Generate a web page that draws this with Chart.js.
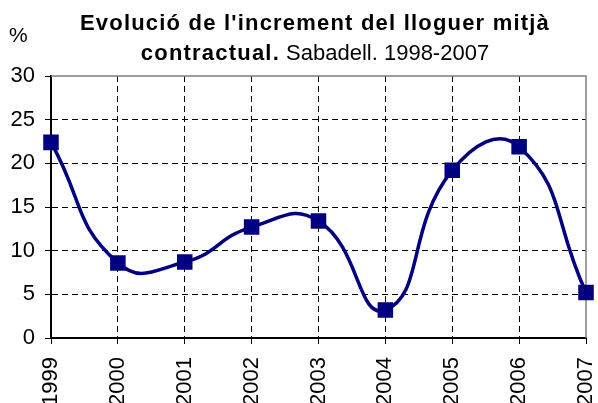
<!DOCTYPE html>
<html>
<head>
<meta charset="utf-8">
<script src="https://cdn.jsdelivr.net/npm/chart.js@4"></script>
<style>
    body { margin: 0; background: #fff; }
    #wrap { position: relative; width: 598px; height: 403px; overflow: hidden; }
    #title { position: absolute; left: 0; top: 8px; width: 630px; text-align: center;
             font-family: 'Liberation Sans', Arial, sans-serif; font-size: 22px; line-height: 30px; color: #000; }
    #title b { letter-spacing: 1.2px; }
    #unit { position: absolute; left: 9px; top: 24px; font-family: 'Liberation Sans', Arial, sans-serif;
            font-size: 21px; line-height: 22px; }
</style>
</head>
<body>
<div id="wrap">
    <canvas id="myLineChart" width="598" height="403"></canvas>
    <div id="title"><b>Evolució de l'increment del lloguer mitjà</b><br><b>contractual.</b> Sabadell. 1998-2007</div>
    <div id="unit">%</div>
</div>
<script>
const years = ['1999', '2000', '2001', '2002', '2003', '2004', '2005', '2006', '2007'];
const increment = [22.4, 8.6, 8.7, 12.7, 13.4, 3.2, 19.2, 21.9, 5.2];
const y_ticks = [0, 5, 10, 15, 20, 25, 30];

// gray frame on top and right, like the original
const frame_plugin = {
    id: 'frame',
    beforeDatasetsDraw(chart) {
        const a = chart.chartArea;
        const c = chart.ctx;
        c.save();
        c.strokeStyle = '#808080';
        c.lineWidth = 1.5;
        c.beginPath();
        c.moveTo(a.left, a.top);
        c.lineTo(a.right, a.top);
        c.lineTo(a.right, a.bottom);
        c.stroke();
        c.restore();
    }
};

window.onload = () => {
    line_graph();
}

function line_graph() {
    const ctx = document.getElementById('myLineChart').getContext('2d');
    const myLineChart = new Chart(ctx, {
        type: 'line',
        data: {
            labels: years,
            datasets: [{
                data: increment,
                borderColor: '#000080',
                backgroundColor: '#000080',
                borderWidth: 3.5,
                tension: 0.5,
                pointStyle: 'rect',
                pointRadius: 8.5,
                pointHoverRadius: 8.5
            }]
        },
        plugins: [frame_plugin],
        options: {
            responsive: false,
            animation: false,
            layout: { padding: { top: 76, right: 10, left: 0, bottom: 0 } },
            plugins: {
                legend: { display: false },
                tooltip: { enabled: false }
            },
            scales: {
                x: {
                    offset: false,
                    afterFit: (scale) => {
                        scale.height = 65;
                        scale.paddingLeft = 0;
                        scale.paddingRight = 0;
                    },
                    ticks: {
                        color: '#000',
                        font: { family: 'Liberation Sans', size: 22 },
                        minRotation: 90,
                        maxRotation: 90,
                        padding: 13
                    },
                    grid: {
                        color: (c) => (c.index === 0 || c.index === years.length - 1) ? 'rgba(0,0,0,0)' : '#000',
                        tickColor: '#000',
                        tickLength: 6,
                        tickBorderDash: [],
                        lineWidth: 1
                    },
                    border: { color: '#000', width: 2, dash: [6, 4] }
                },
                y: {
                    min: 0,
                    max: 30,
                    afterFit: (scale) => { scale.width = 51; },
                    afterBuildTicks: (scale) => { scale.ticks = y_ticks.map(v => ({ value: v })); },
                    ticks: {
                        color: '#000',
                        font: { family: 'Liberation Sans', size: 22 },
                        padding: 10
                    },
                    grid: {
                        color: (c) => (c.tick.value === 0 || c.tick.value === 30) ? 'rgba(0,0,0,0)' : '#000',
                        tickColor: '#000',
                        tickLength: 6,
                        tickBorderDash: [],
                        lineWidth: 1
                    },
                    border: { color: '#000', width: 2, dash: [6, 4] }
                }
            }
        }
    });
}
</script>
</body>
</html>
